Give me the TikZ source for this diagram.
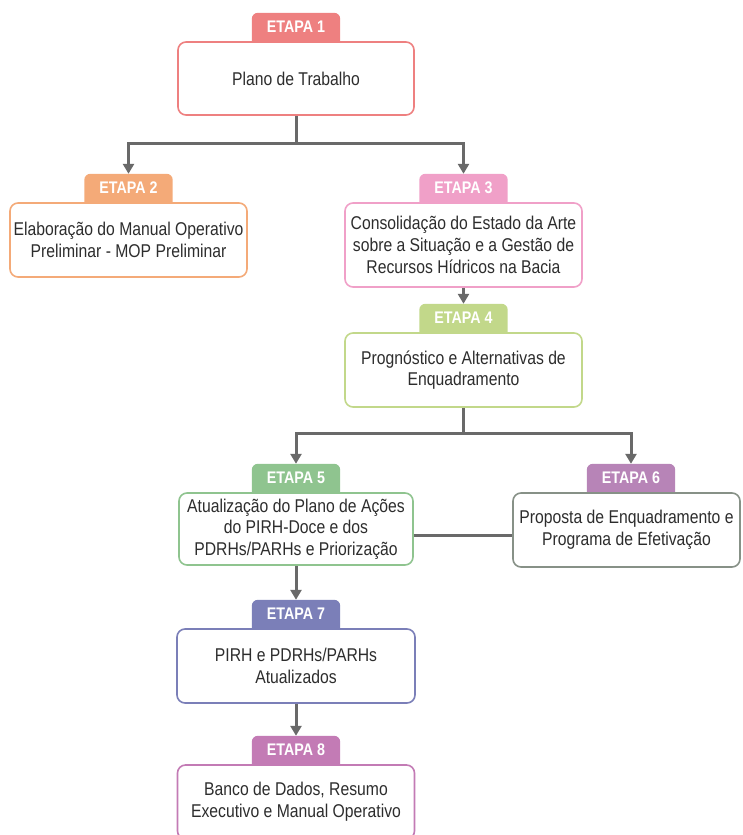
\documentclass[tikz,border=0pt]{standalone}
\usepackage{fontspec}
\setmainfont{Liberation Sans}[FakeStretch=0.85]
\usetikzlibrary{arrows.meta,positioning,backgrounds}

\definecolor{etapaA}{RGB}{238,128,128}
\definecolor{etapaB}{RGB}{244,170,120}
\definecolor{etapaC}{RGB}{240,160,200}
\definecolor{etapaD}{RGB}{194,216,138}
\definecolor{etapaE}{RGB}{143,196,143}
\definecolor{etapaF}{RGB}{183,132,183}
\definecolor{etapaG}{RGB}{123,127,184}
\definecolor{etapaH}{RGB}{195,123,181}
\definecolor{rimF}{RGB}{135,145,135}
\definecolor{textgray}{RGB}{45,45,45}
\definecolor{linegray}{RGB}{105,105,105}

\tikzset{
  box/.style={draw=#1, fill=white, rounded corners=8pt, line width=1.6pt,
    minimum width=237pt, minimum height=74pt, inner sep=0pt, align=center,
    text=textgray, font=\fontsize{18.5}{21.7}\selectfont},
  tab/.style={minimum width=88pt, minimum height=28pt, inner sep=0pt,
    text=white, font=\bfseries\fontsize{16.8}{18}\selectfont},
  link/.style={draw=linegray, line width=3pt},
  flow/.style={link, -{Triangle[length=10pt,width=11pt]}}
}

\begin{document}
\begin{tikzpicture}[x=1pt, y=-1pt]
\useasboundingbox (0,0) rectangle (742,835);
\clip (0,0) rectangle (742,835);

% Boxes
\node[box=etapaA, minimum width=236pt, minimum height=73pt] (b1) at (296,78.5) {Plano de Trabalho};
\node[box=etapaB] (b2) at (128.5,240) {Elaboração do Manual Operativo\\Preliminar - MOP Preliminar};
\node[box=etapaC, minimum height=84pt] (b3) at (463.5,245) {Consolidação do Estado da Arte\\sobre a Situação e a Gestão de\\Recursos Hídricos na Bacia};
\node[box=etapaD] (b4) at (463.5,370) {Prognóstico e Alternativas de\\Enquadramento};
\node[box=etapaE, minimum width=234pt, minimum height=72pt] (b5) at (296,529) {Atualização do Plano de Ações\\do PIRH-Doce e dos\\PDRHs/PARHs e Priorização};
\node[box=rimF, minimum width=227pt] (b6) at (626.5,530) {Proposta de Enquadramento e\\Programa de Efetivação};
\node[box=etapaG, minimum width=238pt] (b7) at (296,666) {PIRH e PDRHs/PARHs\\Atualizados};
\node[box=etapaH] (b8) at (296,802) {Banco de Dados, Resumo\\Executivo e Manual Operativo};

% Tabs
\foreach \i/\dx in {1/0,2/0,3/0,4/0,5/0,6/4.5,7/0,8/0}
  \node[tab, above=0pt of b\i, xshift=\dx pt] (t\i) {ETAPA \i};

\begin{scope}[on background layer]
\foreach \i/\c in {1/etapaA,2/etapaB,3/etapaC,4/etapaD,5/etapaE,6/etapaF,7/etapaG,8/etapaH}
  \fill[\c] (t\i.south west) [rounded corners=6pt] -- (t\i.north west) -- (t\i.north east) [sharp corners] -- (t\i.south east) -- cycle;
\end{scope}

% Connectors
\draw[link] (b1.south) -- ++(0,28) coordinate (j1);
\draw[flow] (j1) -| (t2.north);
\draw[flow] (j1) -| (t3.north);
\draw[flow] (b3.south) -- (t4.north);
\draw[link] (b4.south) -- ++(0,26) coordinate (j4);
\draw[flow] (j4) -| (t5.north);
\draw[flow] (j4) -| (t6.north);
\draw[link] (b5.east) ++(0,6) coordinate (m5) -- (m5 -| b6.west);
\draw[flow] (b5.south) -- (t7.north);
\draw[flow] (b7.south) -- (t8.north);

\end{tikzpicture}
\end{document}
